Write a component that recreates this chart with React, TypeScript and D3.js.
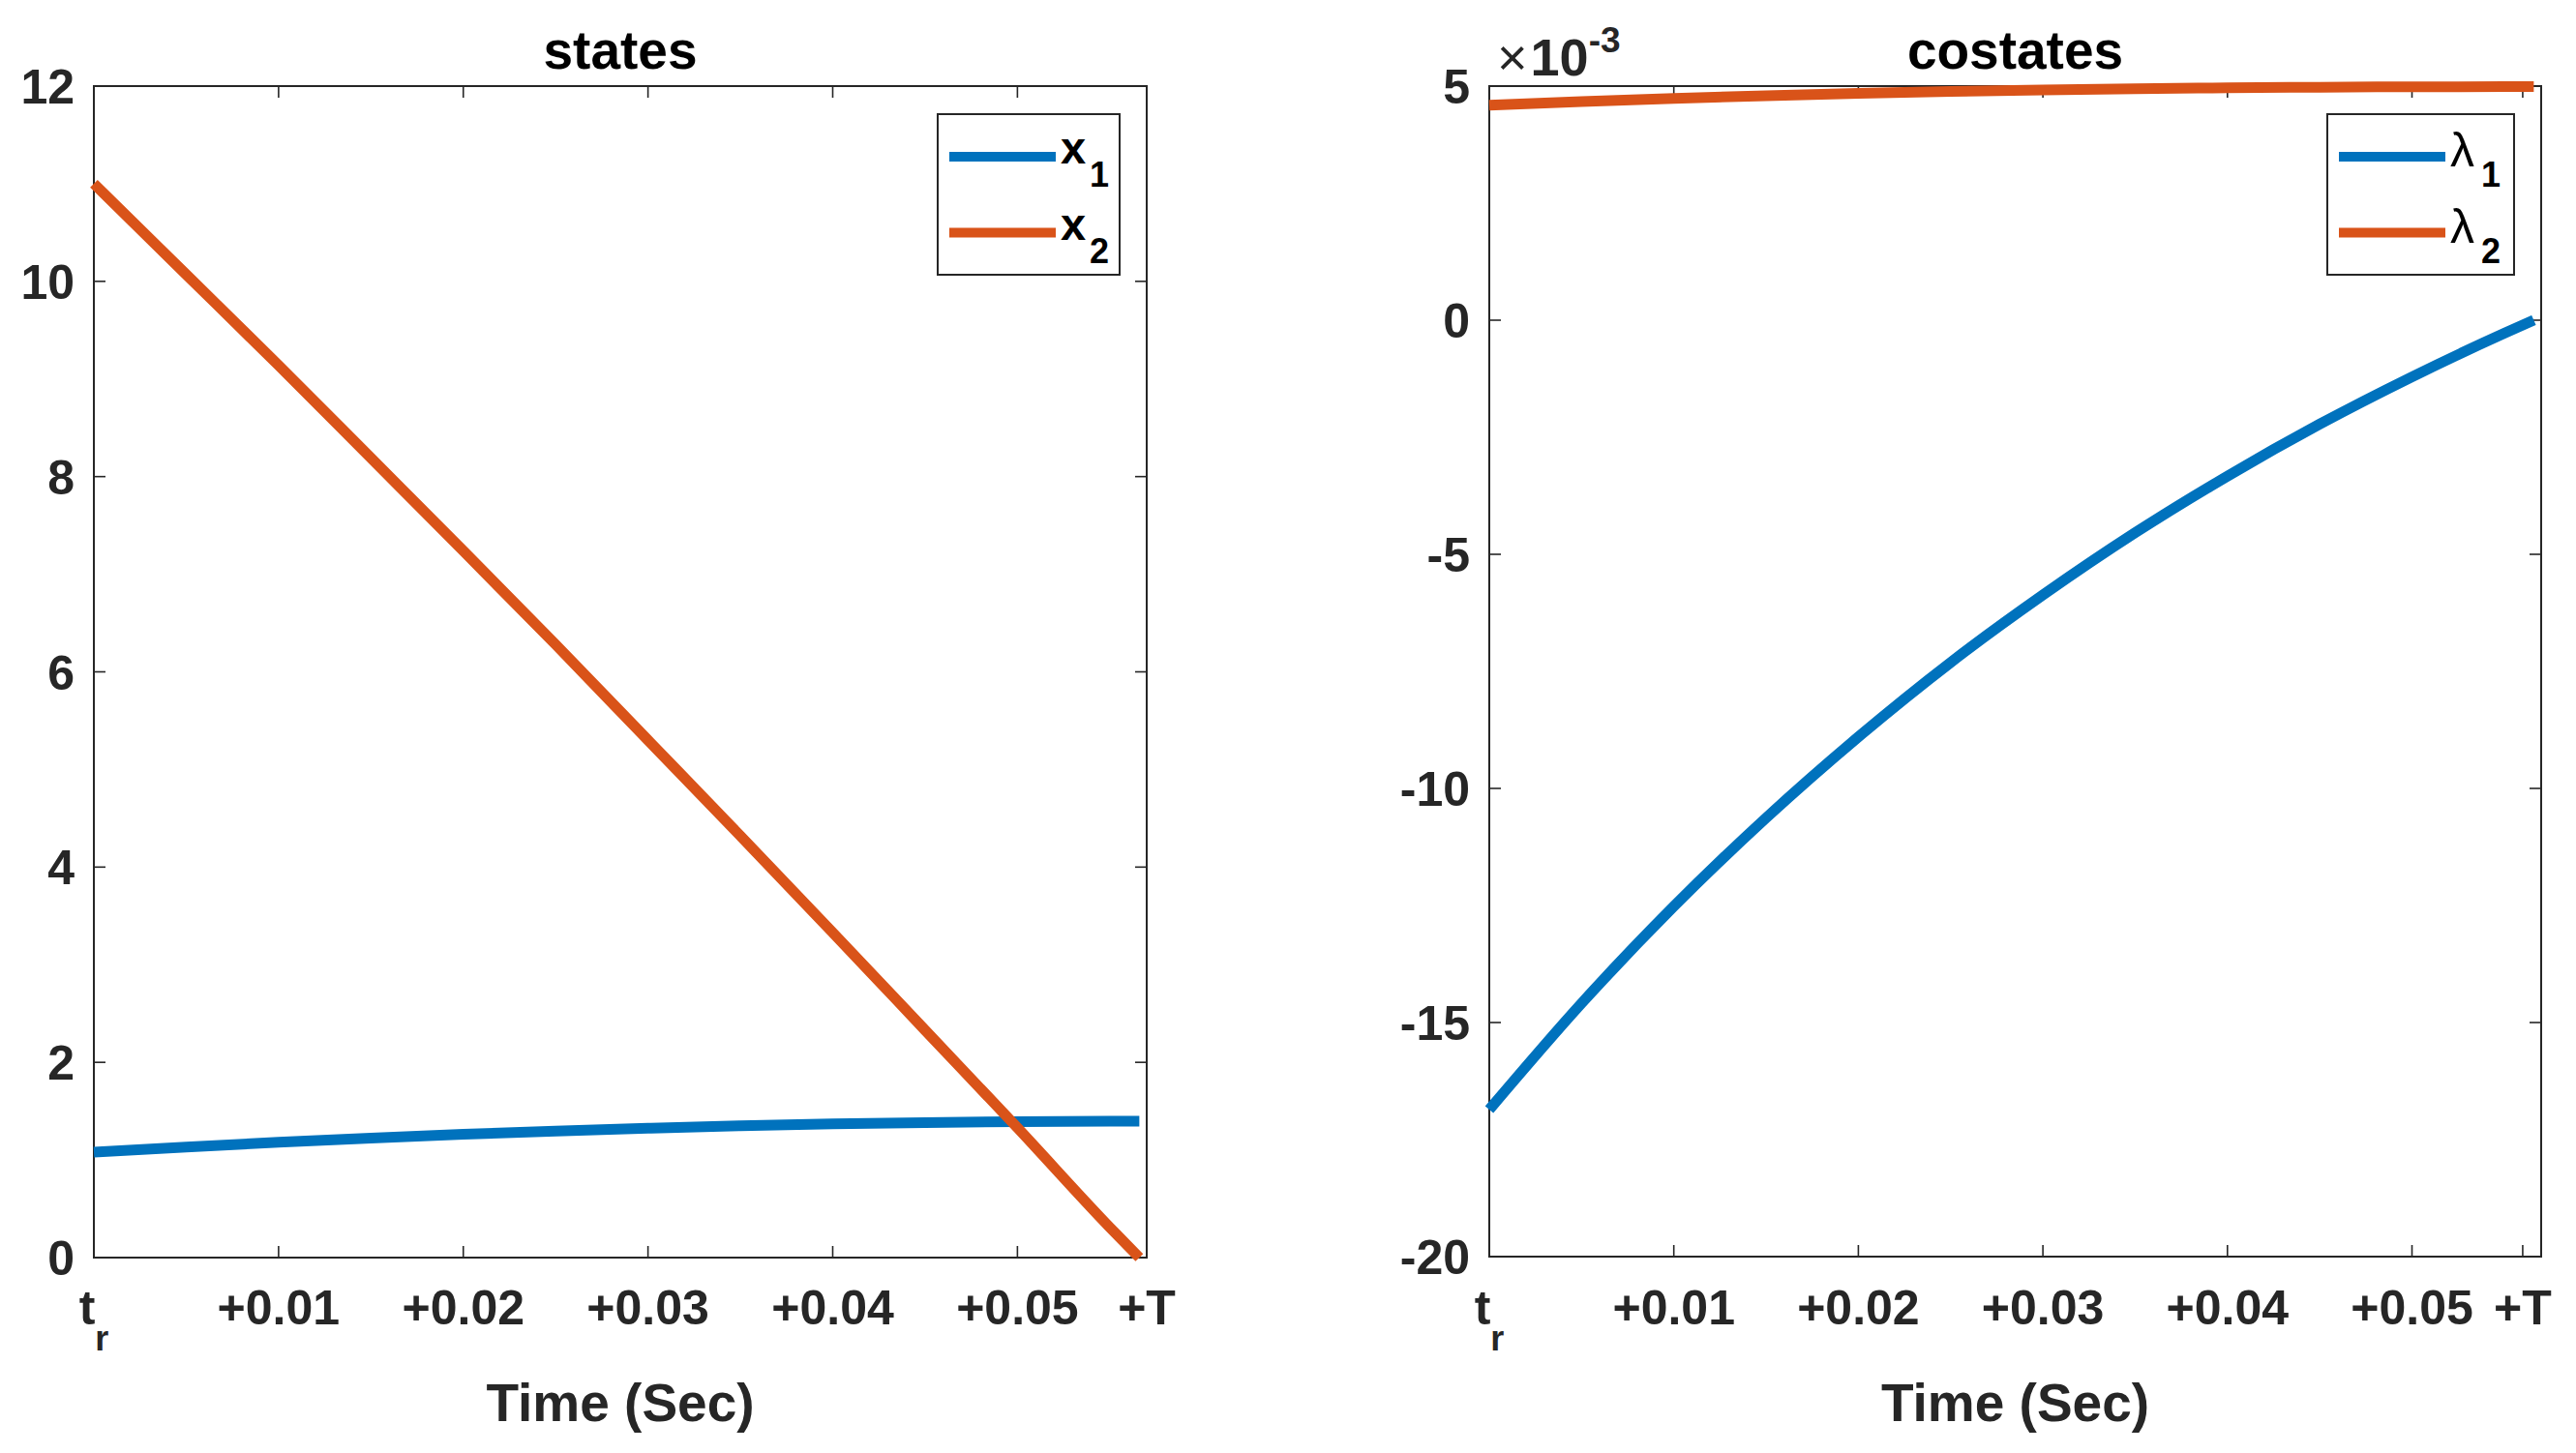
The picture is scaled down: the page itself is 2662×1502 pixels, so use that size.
import React from 'react';
import * as d3 from 'd3';

// ---- data ----
const timeSec = [0, 0.005, 0.01, 0.015, 0.02, 0.025, 0.03, 0.035, 0.04, 0.045, 0.05, 0.055, 0.0566];
const x1 = [1.08, 1.133, 1.181, 1.224, 1.263, 1.296, 1.325, 1.35, 1.369, 1.383, 1.392, 1.396, 1.396];
const x2 = [11.0, 10.07, 9.14, 8.19, 7.24, 6.28, 5.3, 4.32, 3.33, 2.33, 1.33, 0.31, 0.0];
const lambda1 = [-16.86, -14.59, -12.52, -10.63, -8.9, -7.31, -5.87, -4.54, -3.33, -2.22, -1.21, -0.28, 0];
const lambda2 = [4.59, 4.669, 4.737, 4.795, 4.843, 4.884, 4.917, 4.943, 4.962, 4.976, 4.985, 4.989, 4.989];

const xTickLabels = ['t_r', '+0.01', '+0.02', '+0.03', '+0.04', '+0.05', '+T'];
const xTicksStates = [0, 0.01, 0.02, 0.03, 0.04, 0.05, 0.057];
const xTicksCostates = [0, 0.01, 0.02, 0.03, 0.04, 0.05, 0.056];
const yTicksStates = [0, 2, 4, 6, 8, 10, 12];
const yTicksCostates = [-20, -15, -10, -5, 0, 5];
const xDomain = [0, 0.057];
const yDomainStates = [0, 12];
const yDomainCostates = [-20, 5];

const BLUE = '#0072BD';
const ORANGE = '#D95319';
const AX = '#262626';
const FONT = '"Liberation Sans", Arial, Helvetica, sans-serif';

type Series = { values: number[]; color: string; main: string; sub: string; greek: boolean };

function Panel(props: {
  left: number; right: number; top: number; bottom: number;
  yDomain: number[]; yTicks: number[]; xTicks: number[];
  title: string; series: Series[]; legendX: number; exponent?: boolean;
}) {
  const { left, right, top, bottom, yDomain, yTicks, xTicks, title, series, legendX, exponent } = props;
  const x = d3.scaleLinear().domain(xDomain).range([left, right]);
  const y = d3.scaleLinear().domain(yDomain).range([bottom, top]);
  const line = d3.line<number>()
    .x((_, i) => x(timeSec[i]))
    .y((d) => y(d))
    .curve(d3.curveMonotoneX);
  const tickLen = 12;
  const cx = (left + right) / 2;
  const legTop = 118, legBottom = 284;
  return (
    <g>
      {/* ticks */}
      {xTicks.map((t, i) => (
        <g key={'xt' + i}>
          <line x1={x(t)} x2={x(t)} y1={bottom} y2={bottom - tickLen} stroke={AX} strokeWidth={1.6} />
          <line x1={x(t)} x2={x(t)} y1={top} y2={top + tickLen} stroke={AX} strokeWidth={1.6} />
          {xTickLabels[i] === 't_r' ? (
            <text x={x(t)} y={1369} textAnchor="middle" fontFamily={FONT} fontWeight={700} fontSize={50} fill={AX}>
              t<tspan fontSize={36} dy={27}>r</tspan>
            </text>
          ) : (
            <text x={x(t)} y={1369} textAnchor="middle" fontFamily={FONT} fontWeight={700} fontSize={50} fill={AX}>
              {xTickLabels[i]}
            </text>
          )}
        </g>
      ))}
      {yTicks.map((v, i) => (
        <g key={'yt' + i}>
          <line x1={left} x2={left + tickLen} y1={y(v)} y2={y(v)} stroke={AX} strokeWidth={1.6} />
          <line x1={right} x2={right - tickLen} y1={y(v)} y2={y(v)} stroke={AX} strokeWidth={1.6} />
          <text x={left - 20} y={y(v) + 18} textAnchor="end" fontFamily={FONT} fontWeight={700} fontSize={50} fill={AX}>
            {String(v)}
          </text>
        </g>
      ))}
      {/* box */}
      <rect x={left} y={top} width={right - left} height={bottom - top} fill="none" stroke={AX} strokeWidth={2} />
      {/* data */}
      {series.map((s, i) => (
        <path key={'s' + i} d={line(s.values) || ''} fill="none" stroke={s.color} strokeWidth={11} strokeLinecap="butt" strokeLinejoin="round" />
      ))}
      {/* title & label */}
      <text x={cx} y={71} textAnchor="middle" fontFamily={FONT} fontWeight={700} fontSize={55} fill="#000">{title}</text>
      <text x={cx} y={1469} textAnchor="middle" fontFamily={FONT} fontWeight={700} fontSize={55} fill={AX}>Time (Sec)</text>
      {exponent && (
        <text x={left + 8} y={78} fontFamily={FONT} fontSize={54} fill={AX}>
          <tspan fontWeight={400}>×</tspan><tspan fontWeight={700} dx={3}>10</tspan>
          <tspan fontWeight={700} fontSize={37} dy={-24}>-3</tspan>
        </text>
      )}
      {/* legend */}
      <rect x={legendX} y={legTop} width={series[0].greek ? 193 : 188} height={legBottom - legTop} fill="#fff" stroke={AX} strokeWidth={2} />
      {series.map((s, i) => {
        const ly = 162 + i * 78.5;
        const lx0 = legendX + 12;
        return (
          <g key={'lg' + i}>
            <line x1={lx0} x2={lx0 + 110} y1={ly} y2={ly} stroke={s.color} strokeWidth={10} />
            <text x={lx0 + 115} y={ly + (s.greek ? 10 : 7)} fontFamily={FONT} fontWeight={s.greek ? 400 : 700} fontSize={s.greek ? 50 : 47} fill="#000">{s.main}</text>
            <text x={lx0 + (s.greek ? 147 : 145)} y={ly + 31} fontFamily={FONT} fontWeight={700} fontSize={36} fill="#000">{s.sub}</text>
          </g>
        );
      })}
    </g>
  );
}

export default function App() {
  return (
    <svg width={2662} height={1502} viewBox="0 0 2662 1502" style={{ position: 'absolute', left: 0, top: 0, background: '#fff' }}>
      <rect x={0} y={0} width={2662} height={1502} fill="#fff" />
      <Panel left={97} right={1185} top={89} bottom={1300} yDomain={yDomainStates} yTicks={yTicksStates}
        xTicks={xTicksStates} title="states" legendX={969}
        series={[
          { values: x1, color: BLUE, main: 'x', sub: '1', greek: false },
          { values: x2, color: ORANGE, main: 'x', sub: '2', greek: false },
        ]} />
      <Panel left={1539} right={2626} top={89} bottom={1299} yDomain={yDomainCostates} yTicks={yTicksCostates}
        xTicks={xTicksCostates} title="costates" legendX={2405} exponent
        series={[
          { values: lambda1, color: BLUE, main: 'λ', sub: '1', greek: true },
          { values: lambda2, color: ORANGE, main: 'λ', sub: '2', greek: true },
        ]} />
    </svg>
  );
}
